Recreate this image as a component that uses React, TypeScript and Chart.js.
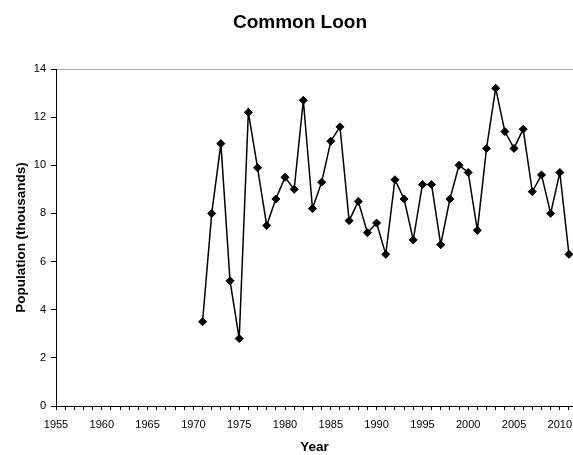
import { useEffect, useRef } from 'react';
import { Chart, registerables } from 'chart.js';

Chart.register(...registerables);

const chartTitle = 'Common Loon';
const xAxisTitle = 'Year';
const yAxisTitle = 'Population (thousands)';

const years = [
  1971, 1972, 1973, 1974, 1975, 1976, 1977, 1978, 1979, 1980,
  1981, 1982, 1983, 1984, 1985, 1986, 1987, 1988, 1989, 1990,
  1991, 1992, 1993, 1994, 1995, 1996, 1997, 1998, 1999, 2000,
  2001, 2002, 2003, 2004, 2005, 2006, 2007, 2008, 2009, 2010,
  2011,
];

const population = [
  3.5, 8.0, 10.9, 5.2, 2.8, 12.2, 9.9, 7.5, 8.6, 9.5,
  9.0, 12.7, 8.2, 9.3, 11.0, 11.6, 7.7, 8.5, 7.2, 7.6,
  6.3, 9.4, 8.6, 6.9, 9.2, 9.2, 6.7, 8.6, 10.0, 9.7,
  7.3, 10.7, 13.2, 11.4, 10.7, 11.5, 8.9, 9.6, 8.0, 9.7,
  6.3,
];

const xTickYears = [
  1955, 1956, 1957, 1958, 1959, 1960, 1961, 1962, 1963, 1964,
  1965, 1966, 1967, 1968, 1969, 1970, 1971, 1972, 1973, 1974,
  1975, 1976, 1977, 1978, 1979, 1980, 1981, 1982, 1983, 1984,
  1985, 1986, 1987, 1988, 1989, 1990, 1991, 1992, 1993, 1994,
  1995, 1996, 1997, 1998, 1999, 2000, 2001, 2002, 2003, 2004,
  2005, 2006, 2007, 2008, 2009, 2010, 2011,
];

const xLabelYears = [1955, 1960, 1965, 1970, 1975, 1980, 1985, 1990, 1995, 2000, 2005, 2010];

const yTicks = [0, 2, 4, 6, 8, 10, 12, 14];

const FONT = '"Liberation Sans", Arial, Helvetica, sans-serif';

const titlePlugin = {
  id: 'customTitle',
  afterDraw(chart: any) {
    const ctx = chart.ctx;
    ctx.save();
    ctx.font = `bold 19px ${FONT}`;
    ctx.fillStyle = '#000';
    ctx.textAlign = 'center';
    ctx.textBaseline = 'alphabetic';
    ctx.fillText(chartTitle, 300, 28);
    ctx.restore();
  },
};

export default function App() {
  const canvasRef = useRef<HTMLCanvasElement | null>(null);

  useEffect(() => {
    document.body.style.margin = '0';
    const canvas = canvasRef.current;
    if (!canvas) return;

    const chart = new Chart(canvas, {
      type: 'line',
      data: {
        datasets: [
          {
            label: chartTitle,
            data: years.map((yr, i) => ({ x: yr, y: population[i] })),
            borderColor: '#000',
            borderWidth: 1.5,
            backgroundColor: '#000',
            pointStyle: 'rectRot',
            pointRadius: 4,
            pointBorderWidth: 1,
            pointBackgroundColor: '#000',
            pointBorderColor: '#000',
            tension: 0,
            fill: false,
          },
        ],
      },
      options: {
        animation: false,
        responsive: false,
        layout: {
          autoPadding: false,
          padding: { top: 69, left: 0, right: 0, bottom: 0 },
        },
        plugins: {
          legend: { display: false },
          title: { display: false },
          tooltip: { enabled: false },
        },
        scales: {
          x: {
            type: 'linear',
            min: 1955,
            max: 2011.44,
            offset: false,
            afterBuildTicks: (scale: any) => {
              scale.ticks = xTickYears.map((v) => ({ value: v }));
            },
            afterFit: (scale: any) => {
              scale.height = 49;
              scale.paddingLeft = 0;
              scale.paddingRight = 0;
            },
            ticks: {
              autoSkip: false,
              maxRotation: 0,
              minRotation: 0,
              padding: 8,
              color: '#000',
              font: { family: FONT, size: 11 },
              callback: (value: any) => (xLabelYears.includes(Number(value)) ? String(value) : ''),
            },
            grid: {
              display: true,
              drawOnChartArea: false,
              drawTicks: true,
              tickLength: 4,
              color: '#000',
              tickColor: '#000',
            },
            border: { display: true, color: '#000', width: 1 },
            title: {
              display: true,
              text: xAxisTitle,
              color: '#000',
              font: { family: FONT, size: 13.5, weight: 'bold', lineHeight: 1.1 },
              padding: { top: 0, bottom: 0 },
            },
          },
          y: {
            type: 'linear',
            min: 0,
            max: 14,
            afterBuildTicks: (scale: any) => {
              scale.ticks = yTicks.map((v) => ({ value: v }));
            },
            afterFit: (scale: any) => {
              scale.width = 56;
            },
            ticks: {
              padding: 5,
              color: '#000',
              font: { family: FONT, size: 11 },
            },
            grid: {
              display: true,
              drawOnChartArea: true,
              drawTicks: true,
              tickLength: 5,
              lineWidth: 1,
              color: (ctx: any) => (ctx.tick && ctx.tick.value === 14 ? '#a6a6a6' : 'rgba(0,0,0,0)'),
              tickColor: '#000',
            },
            border: { display: true, color: '#000', width: 1 },
            title: {
              display: true,
              text: yAxisTitle,
              color: '#000',
              font: { family: FONT, size: 13.5, weight: 'bold', lineHeight: 1.1 },
              padding: { top: 13.5, bottom: 0 },
            },
          },
        },
      } as any,
      plugins: [titlePlugin],
    });

    return () => {
      chart.destroy();
    };
  }, []);

  return (
    <div style={{ width: 573, height: 455, background: '#fff' }}>
      <canvas ref={canvasRef} width={573} height={455} style={{ display: 'block' }} />
    </div>
  );
}
